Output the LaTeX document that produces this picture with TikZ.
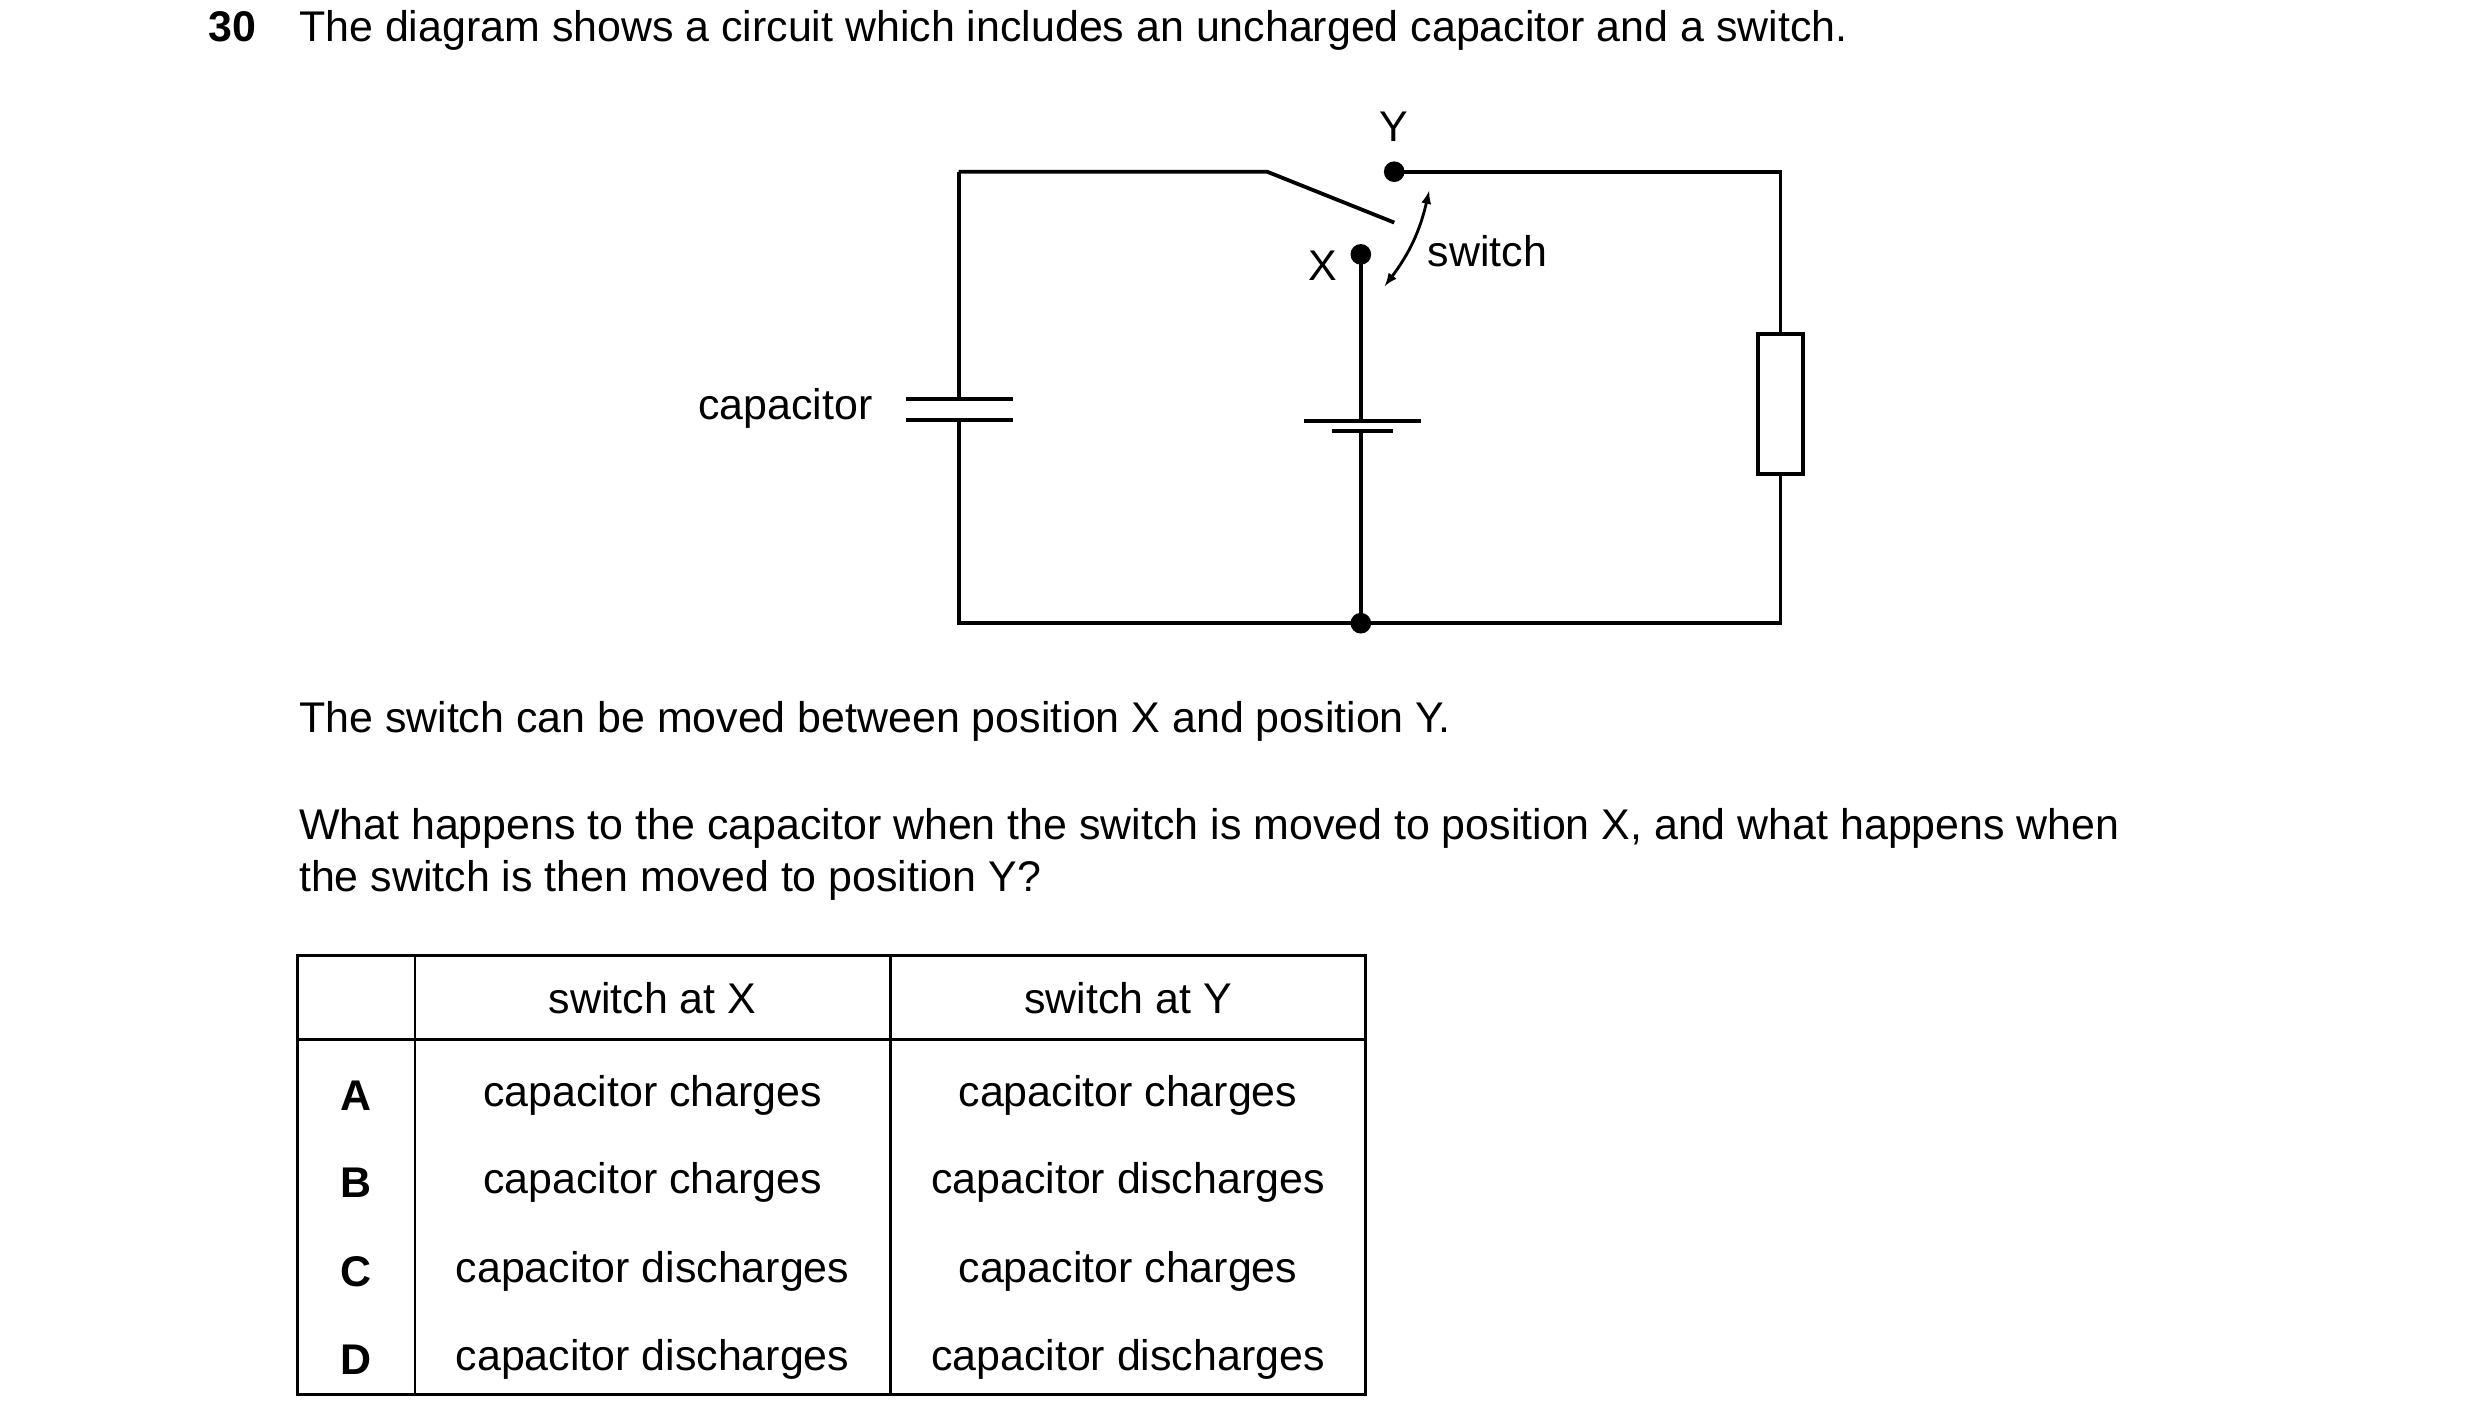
\documentclass[tikz,border=0pt]{standalone}
\usepackage{fontspec}
\setmainfont{Liberation Sans}
\begin{document}
\begin{tikzpicture}[x=1pt,y=-1pt,line width=2.4pt,
  txt/.style={font=\fontsize{27}{32}\selectfont,inner sep=0pt},
  dot/.style={circle,fill=black,inner sep=0pt,minimum size=13pt}]
\useasboundingbox (0,0) rectangle (1560,898);
\node[txt,anchor=base west,font=\fontsize{27}{32}\selectfont\bfseries] (num) at (130,26) {30};
\node[txt,anchor=base west] (t1) at (187,26) {The diagram shows a circuit which includes an uncharged capacitor and a switch.};
% circuit
\coordinate (tl) at (603,108); \coordinate (bl) at (603,392);
\coordinate (piv) at (797,108); \coordinate (blade) at (877,140);
\node[dot] (Y) at (877,108) {};
\node[dot] (X) at (856,160) {};
\node[dot] (B) at (856,392) {};
\coordinate (tr) at (1120,108); \coordinate (br) at (1120,392);
\draw (tl) -- (piv) -- (blade);
\draw (Y.center) -- (tr) -- (1120,210);
\node[draw,minimum width=28pt,minimum height=88pt,inner sep=0pt] (R) at (1120,254) {};
\draw (R.south) -- (br) -- (bl) -- (603,264);
\draw (tl) -- (603,251);
\draw (570,251) -- (637,251); \draw (570,264) -- (637,264);
\draw (X.center) -- (856,265); \draw (820,265) -- (894,265);
\draw (838,271) -- (876,271); \draw (856,271) -- (B.center);
\node[txt,anchor=east] (cap) at (550,257) {capacitor};
\node[txt] (ly) at (877,80) {Y};
\node[txt] (lx) at (832,167) {X};
\node[txt,anchor=west] (ls) at (897,158) {switch};
\draw[line width=1.8pt,<->,>=latex] (871,180) to[bend right=12] (899,120);
\node[txt,anchor=base west] (t2) at (187,461) {The switch can be moved between position X and position Y.};
\node[txt,anchor=base west] (t3) at (187,528) {What happens to the capacitor when the switch is moved to position X, and what happens when};
\node[txt,anchor=base west] (t4) at (187,561) {the switch is then moved to position Y?};
% table
\draw[line width=1.6pt] (187,601) rectangle (859,877);
\draw[line width=1.6pt] (187,654) -- (859,654);
\draw[line width=1.6pt] (261,601) -- (261,877);
\draw[line width=1.6pt] (560,601) -- (560,877);
\node[txt] (h1) at (410.5,628) {switch at X};
\node[txt] (h2) at (709.5,628) {switch at Y};
\foreach \l/\a/\b/\y in {A/charges/charges/689,B/charges/discharges/744,C/discharges/charges/800,D/discharges/discharges/855}{
  \node[txt,font=\fontsize{27}{32}\selectfont\bfseries] at (224,\y) {\l};
  \node[txt] at (410.5,\y) {capacitor \a};
  \node[txt] at (709.5,\y) {capacitor \b};
}
\end{tikzpicture}
\end{document}
